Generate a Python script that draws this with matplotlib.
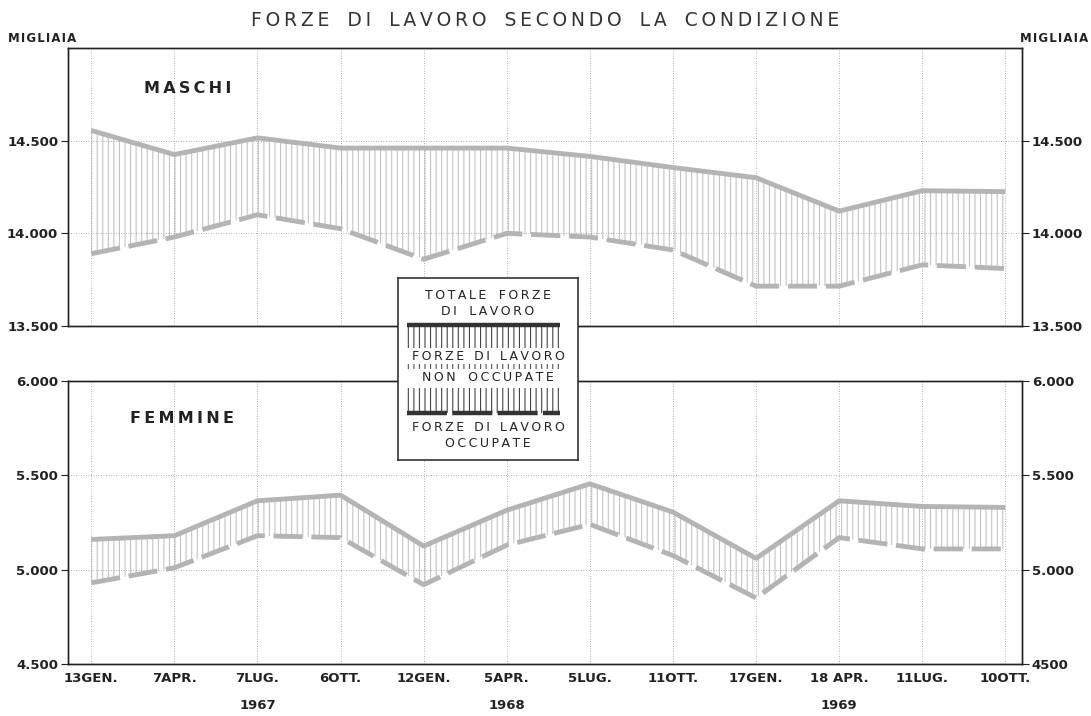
import numpy as np
import matplotlib
matplotlib.use("Agg")
import matplotlib.pyplot as plt

# survey dates (quarterly, 1967-1969)
dates = ['13GEN.', '7APR.', '7LUG.', '6OTT.', '12GEN.', '5APR.',
         '5LUG.', '11OTT.', '17GEN.', '18 APR.', '11LUG.', '10OTT.']
years = ['1967', '1968', '1969']
year_pos = [2, 5, 9]

# thousands - men
maschi_totale = [14555, 14425, 14515, 14460, 14460, 14460, 14415, 14355, 14300, 14120, 14230, 14225]
maschi_occupate = [13890, 13980, 14100, 14025, 13860, 14000, 13980, 13910, 13715, 13715, 13830, 13810]

# thousands - women
femmine_totale = [5160, 5180, 5365, 5395, 5125, 5315, 5455, 5305, 5060, 5365, 5335, 5330]
femmine_occupate = [4930, 5010, 5180, 5170, 4920, 5130, 5240, 5075, 4850, 5170, 5110, 5110]

ticks_m = [13500, 14000, 14500]
ticks_m_left = ['13.500', '14.000', '14.500']
ticks_m_right = ['13.500', '14.000', '14.500']
ticks_f = [4500, 5000, 5500, 6000]
ticks_f_left = ['4.500', '5.000', '5.500', '6.000']
ticks_f_right = ['4500', '5.000', '5.500', '6.000']

plt.rcParams['font.family'] = 'DejaVu Sans'
plt.rcParams['hatch.linewidth'] = 0.8

line_col = '#b4b4b4'
hatch_col = '#c4c4c4'
ink = '#222222'


def spaced(s, sep='\u2009', gap='\u2009' * 5):
    # letter-spaced lettering like the original drawing
    words = s.split(' ')
    return gap.join(sep.join(w) for w in words)


fig = plt.figure(figsize=(10.91, 7.16), dpi=100)
x = np.arange(len(dates))

W = 1091.0
H = 716.0
left = 68 / W
width = (1022 - 68) / W
ax_m = fig.add_axes([left, 1 - 326 / H, width, (326 - 48) / H])
ax_f = fig.add_axes([left, 1 - 664 / H, width, (664 - 381) / H])


def draw_panel(ax, tot, occ, ylim, ticks, lab_l, lab_r, name, name_pos):
    ax.fill_between(x, occ, tot, facecolor='none', edgecolor=hatch_col,
                    hatch='|||', linewidth=0)
    ax.plot(x, tot, color=line_col, lw=3.5, solid_capstyle='butt', zorder=3)
    ax.plot(x, occ, color=line_col, lw=3.5, dashes=(6, 1.8), zorder=3)
    ax.set_xlim(-0.28, 11.2)
    ax.set_ylim(*ylim)
    ax.set_xticks(x)
    ax.set_yticks(ticks)
    ax.set_yticklabels(lab_l)
    ax.grid(True, color='#999999', lw=0.6, ls=(0, (1, 2)))
    for s in ax.spines.values():
        s.set_color(ink)
        s.set_linewidth(1.0)
    ax.tick_params(axis='y', direction='out', length=5, width=0.8, color=ink,
                   labelsize=9.5, labelcolor=ink, pad=2)
    ax.tick_params(axis='x', length=0)
    for t in ax.get_yticklabels():
        t.set_fontweight('bold')
    ax2 = ax.twinx()
    ax2.set_ylim(*ylim)
    ax2.set_yticks(ticks)
    ax2.set_yticklabels(lab_r)
    ax2.tick_params(axis='y', direction='out', length=5, width=0.8, color=ink,
                    labelsize=9.5, labelcolor=ink, pad=2)
    for t in ax2.get_yticklabels():
        t.set_fontweight('bold')
    for s in ax2.spines.values():
        s.set_color(ink)
        s.set_linewidth(1.0)
    ax.text(name_pos[0], name_pos[1], spaced(name), transform=ax.transAxes,
            fontsize=11.5, fontweight='bold', color=ink, va='center')


draw_panel(ax_m, maschi_totale, maschi_occupate, (13500, 15000),
           ticks_m, ticks_m_left, ticks_m_right, 'MASCHI', (0.08, 0.856))
draw_panel(ax_f, femmine_totale, femmine_occupate, (4500, 6000),
           ticks_f, ticks_f_left, ticks_f_right, 'FEMMINE', (0.065, 0.869))

ax_m.set_xticklabels([])
ax_f.set_xticklabels(dates, fontsize=9.5, fontweight='bold', color=ink)
ax_f.tick_params(axis='x', pad=6)
for yr, p in zip(years, year_pos):
    ax_f.text(p, -0.145, yr, transform=ax_f.get_xaxis_transform(),
              ha='center', va='center', fontsize=9.5, fontweight='bold', color=ink)

fig.text(545 / W, 1 - 21 / H,
         spaced('FORZE DI LAVORO SECONDO LA CONDIZIONE', '\u2009', '   '),
         ha='center', va='center', fontsize=13.5, color='#333333')
fig.text(8 / W, 1 - 38 / H, spaced('MIGLIAIA', '\u200a'), fontsize=8.5,
         fontweight='bold', color=ink, va='center')
fig.text(1088 / W, 1 - 38 / H, spaced('MIGLIAIA', '\u200a'), fontsize=8.5,
         fontweight='bold', color=ink, va='center', ha='right')

# legend box
lg = fig.add_axes([398 / W, 1 - 460 / H, 180 / W, 182 / H])
lg.set_xlim(0, 1)
lg.set_ylim(0, 1)
lg.set_xticks([])
lg.set_yticks([])
lg.set_facecolor('white')
for s in lg.spines.values():
    s.set_color(ink)
    s.set_linewidth(1.1)
lg.set_zorder(10)
kw = dict(ha='center', va='center', fontsize=9, color=ink)
lg.text(0.5, 0.905, spaced('TOTALE FORZE'), **kw)
lg.text(0.5, 0.815, spaced('DI LAVORO'), **kw)
lg.plot([0.05, 0.90], [0.742, 0.742], color='#333333', lw=3.2, solid_capstyle='butt')
lg.fill_between([0.05, 0.90], 0.615, 0.742, facecolor='none', edgecolor='#444444',
                hatch='|||', linewidth=0)
lg.text(0.5, 0.566, spaced('FORZE DI LAVORO', gap='\u2009' * 4), **kw)
lg.fill_between([0.05, 0.90], 0.50, 0.525, facecolor='none', edgecolor='#555555',
                hatch='|||', linewidth=0)
lg.text(0.5, 0.455, spaced('NON OCCUPATE'), **kw)
lg.fill_between([0.05, 0.90], 0.26, 0.395, facecolor='none', edgecolor='#444444',
                hatch='|||', linewidth=0)
lg.plot([0.05, 0.90], [0.26, 0.26], color='#333333', lw=3.2, dashes=(9, 1.2))
lg.text(0.5, 0.176, spaced('FORZE DI LAVORO', gap='\u2009' * 4), **kw)
lg.text(0.5, 0.088, spaced('OCCUPATE'), **kw)

fig.savefig('out.png', dpi=100)
